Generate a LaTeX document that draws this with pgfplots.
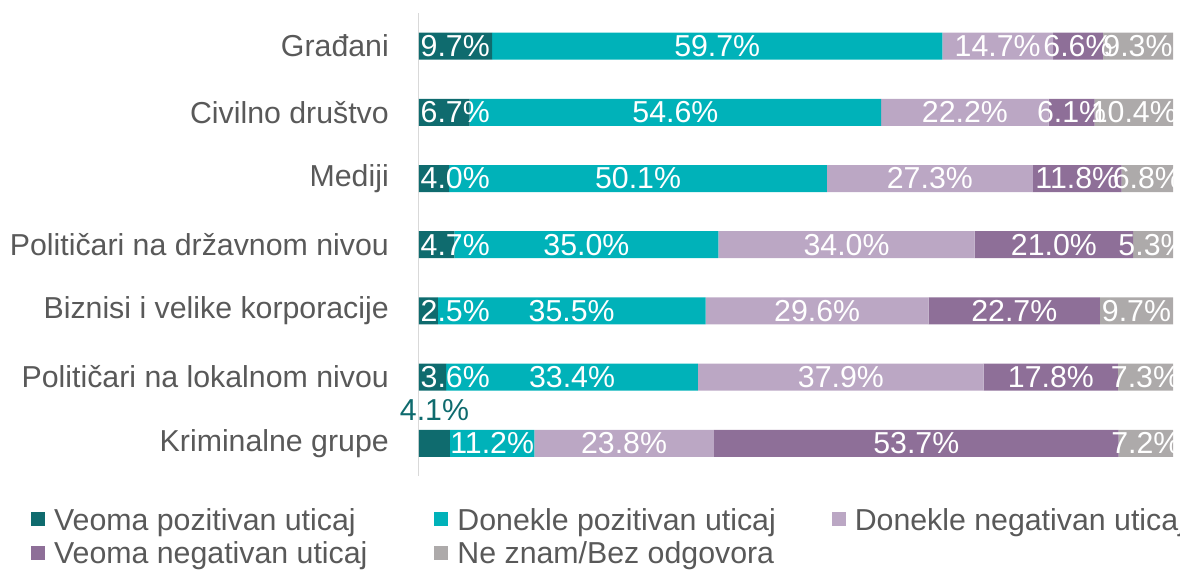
\documentclass[border=0pt]{standalone}
\usepackage{pgfplots}
\pgfplotsset{compat=1.18}
\usepackage{pgfplotstable}
\usepackage{fontspec}
\setmainfont{Liberation Sans}
\definecolor{c1}{HTML}{0F6B6E}
\definecolor{c2}{HTML}{00B2B9}
\definecolor{c3}{HTML}{BBA7C4}
\definecolor{c4}{HTML}{8E6F98}
\definecolor{c5}{HTML}{ADAAAA}
\definecolor{tgray}{HTML}{595959}
\pgfplotstableread{
idx a b c d e
0 9.7 59.7 14.7 6.6 9.3
1 6.7 54.6 22.2 6.1 10.4
2 4.0 50.1 27.3 11.8 6.8
3 4.7 35.0 34.0 21.0 5.3
4 2.5 35.5 29.6 22.7 9.7
5 3.6 33.4 37.9 17.8 7.3
6 4.1 11.2 23.8 53.7 7.2
}\data
\newcommand\lf{\fontsize{30.3}{35}\selectfont}
\begin{document}
\begin{tikzpicture}
\useasboundingbox (-419pt,-95pt) rectangle (761pt,476.4pt);
\begin{axis}[
  scale only axis, width=754pt, height=463.4pt,
  xbar stacked, bar width=27pt,
  xmin=0, xmax=100, ymin=-0.5, ymax=6.5, y dir=reverse,
  enlargelimits=false,
  axis x line=none, axis y line=left, xtick=\empty,
  y axis line style={-, draw=black!15, line width=1pt},
  ytick={0,...,6},
  yticklabels={Građani, Civilno društvo, Mediji, Političari na državnom nivou, Biznisi i velike korporacije, Političari na lokalnom nivou, Kriminalne grupe},
  major tick length=0pt,
  yticklabel style={font=\lf, text=tgray, anchor=east, inner sep=0pt, xshift=-30pt},
  legend columns=3,
  legend image code/.code={\fill[#1] (0pt,-6pt) rectangle (14pt,8pt);},
  legend cell align=left,
  legend style={draw=none, at={(-0.5146,-0.058)}, anchor=north west, font=\lf, text=tgray, inner sep=0pt, nodes={inner xsep=9pt, inner ysep=5pt}, /tikz/column 2/.style={column sep=58pt}, /tikz/column 4/.style={column sep=47pt}},
]
\addplot[fill=c1, draw=none] table[x=a, y=idx]{\data};
\addplot[fill=c2, draw=none] table[x=b, y=idx]{\data};
\addplot[fill=c3, draw=none] table[x=c, y=idx]{\data};
\addplot[fill=c4, draw=none] table[x=d, y=idx]{\data};
\addplot[fill=c5, draw=none] table[x=e, y=idx]{\data};
\legend{Veoma pozitivan uticaj, Donekle pozitivan uticaj, Donekle negativan uticaj, Veoma negativan uticaj, Ne znam/Bez odgovora}
\end{axis}
\begin{axis}[
  scale only axis, width=754pt, height=463.4pt,
  xmin=0, xmax=100, ymin=-0.5, ymax=6.5, y dir=reverse,
  axis lines=none, clip=false,
  point meta=explicit,
  nodes near coords={\pgfmathprintnumber[fixed,fixed zerofill,precision=1,assume math mode=true]{\pgfplotspointmeta}\%},
  nodes near coords align={center},
  every node near coord/.append style={font=\lf, text=white, anchor=center, inner sep=0pt},
]
\addplot[draw=none, skip coords between index={6}{7}, every node near coord/.append style={anchor=west, xshift=1.5pt}] table[x expr=0, y=idx, meta=a]{\data};
\addplot[draw=none, every node near coord/.append style={text=c1, yshift=33pt}, skip coords between index={0}{6}] table[x expr=\thisrow{a}/2, y=idx, meta=a]{\data};
\addplot[draw=none] table[x expr=\thisrow{a}+\thisrow{b}/2, y=idx, meta=b]{\data};
\addplot[draw=none] table[x expr=\thisrow{a}+\thisrow{b}+\thisrow{c}/2, y=idx, meta=c]{\data};
\addplot[draw=none] table[x expr=\thisrow{a}+\thisrow{b}+\thisrow{c}+\thisrow{d}/2, y=idx, meta=d]{\data};
\addplot[draw=none] table[x expr=\thisrow{a}+\thisrow{b}+\thisrow{c}+\thisrow{d}+\thisrow{e}/2, y=idx, meta=e]{\data};
\end{axis}
\end{tikzpicture}
\end{document}
